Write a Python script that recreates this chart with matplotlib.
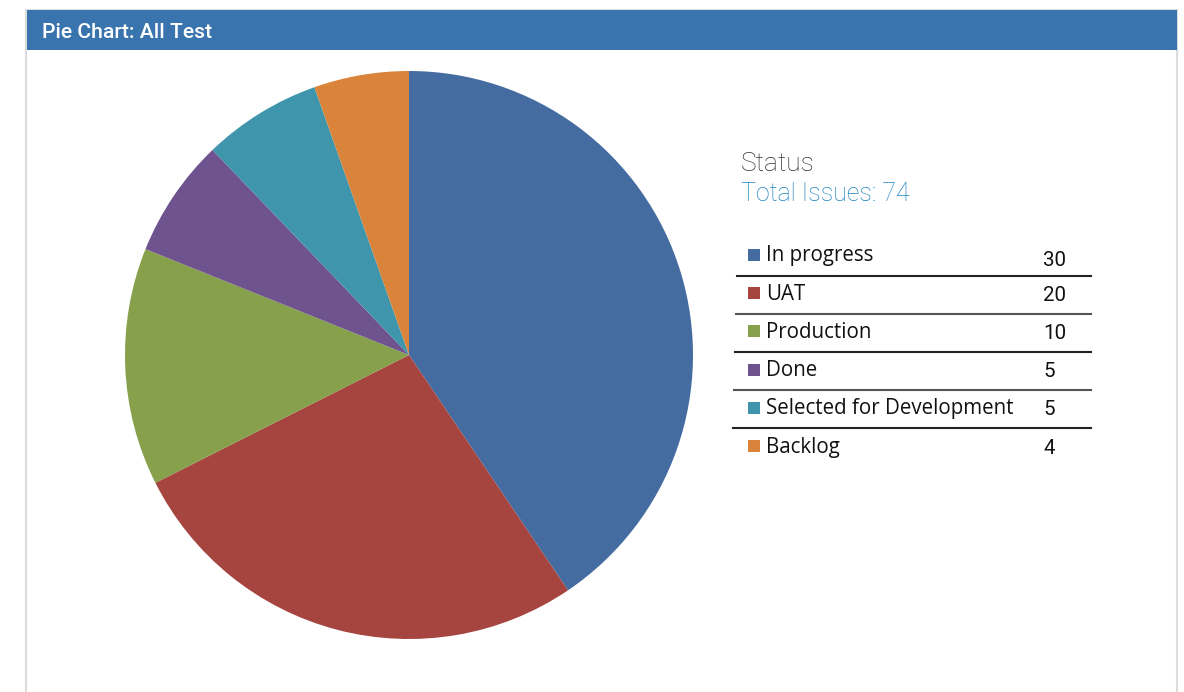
import matplotlib.pyplot as plt
from matplotlib.patches import Rectangle

# data
statuses = ["In progress", "UAT", "Production", "Done", "Selected for Development", "Backlog"]
counts = [30, 20, 10, 5, 5, 4]
colors = ["#456ca1", "#a6443f", "#86a04c", "#6e538f", "#3f96ac", "#d9843a"]
title = "Pie Chart: All Test"
legend_title = "Status"

W, H = 1184, 692
fig = plt.figure(figsize=(W / 100, H / 100), dpi=100)
fig.patch.set_facecolor("white")

# background layer in pixel coordinates
bg = fig.add_axes([0, 0, 1, 1])
bg.set_xlim(0, W)
bg.set_ylim(H, 0)
bg.axis("off")

# panel with header
bg.add_patch(Rectangle((26, 10), 1151, 690, facecolor="white", edgecolor="#dcdcdc", lw=1.5))
bg.add_patch(Rectangle((27, 10), 1150, 40, facecolor="#3a74ae", edgecolor="none"))
bg.text(42, 32, title, color="white", fontsize=15.2, family="Roboto", fontweight="medium", va="center")

# pie
ax = fig.add_axes([125 / W, (H - 639) / H, 568 / W, 568 / H])
ax.pie(counts, colors=colors, startangle=90, counterclock=False,
       wedgeprops=dict(linewidth=0))
ax.set_xlim(-1, 1)
ax.set_ylim(-1, 1)
ax.set_aspect("equal")

# legend header
bg.text(741, 164, legend_title, fontsize=19, family="Roboto", fontweight="light",
        color="#333333", va="center")
bg.text(741, 194, f"Total Issues: {sum(counts)}", fontsize=18, family="Roboto",
        fontweight="light", color="#1a82c0", va="center")

# legend table
row0, step = 256, 38.2
for i, (name, n, c) in enumerate(zip(statuses, counts, colors)):
    y = row0 + i * step
    bg.add_patch(Rectangle((748, y - 7), 12, 12, facecolor=c, edgecolor="none"))
    bg.text(766, y, name, fontsize=14.8, family="Open Sans", color="#111111", va="center")
    bg.text(1043, y + (4 if i < 1 else 1), str(n), fontsize=14.8, family="Roboto",
            color="#111111", va="center")
    if i < len(statuses) - 1:
        ly = y + 19.5
        bg.plot([737 - i, 1091], [ly, ly], color="#222222" if i % 2 == 0 else "#555555", lw=1.5)

fig.savefig("out.png", dpi=100)
